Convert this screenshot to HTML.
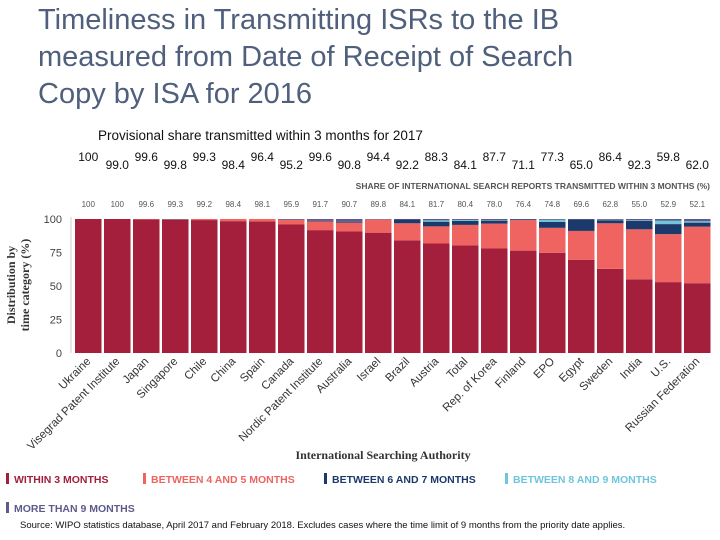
<!DOCTYPE html>
<html><head><meta charset="utf-8"><style>
body{margin:0;background:#fff;width:720px;height:540px;overflow:hidden;font-family:"Liberation Sans",sans-serif}
.title{position:absolute;left:38px;top:2px;font-size:29px;line-height:37px;color:#4f5f7c;width:605px}
</style></head><body>
<div class="title">Timeliness in Transmitting ISRs to the IB measured from Date of Receipt of Search Copy by ISA for 2016</div>
<svg id="c" width="720" height="540" style="position:absolute;left:0;top:0"></svg>
<script>
const cats=["Ukraine","Visegrad Patent Institute","Japan","Singapore","Chile","China","Spain","Canada","Nordic Patent Institute","Australia","Israel","Brazil","Austria","Total","Rep. of Korea","Finland","EPO","Egypt","Sweden","India","U.S.","Russian Federation"];
const within3=[100,100,99.6,99.3,99.2,98.4,98.1,95.9,91.7,90.7,89.8,84.1,81.7,80.4,78.0,76.4,74.8,69.6,62.8,55.0,52.9,52.1];
const m45=[0,0,0.4,0.4,0.8,1.6,1.9,3.5,6.5,6.6,9.8,12.7,12.8,15.2,18.6,22.8,18.6,21.5,34.0,37.3,35.8,42.2];
const m67=[0,0,0,0.3,0,0,0,0.3,0.5,0.7,0.2,2.8,3.5,2.9,2.2,0.5,4.5,8.5,2.3,6.2,7.5,3.0];
const m89=[0,0,0,0,0,0,0,0,0,0,0,0,1.0,0.8,0.4,0,1.5,0,0.3,0.5,2.5,1.0];
const m9p=[0,0,0,0,0,0,0,0.3,1.3,2.0,0.2,0.4,1.0,0.7,0.8,0.3,0.6,0.4,0.6,1.0,1.3,1.7];
const prov=["100","99.0","99.6","99.8","99.3","98.4","96.4","95.2","99.6","90.8","94.4","92.2","88.3","84.1","87.7","71.1","77.3","65.0","86.4","92.3","59.8","62.0"];
const shareLabels=["100","100","99.6","99.3","99.2","98.4","98.1","95.9","91.7","90.7","89.8","84.1","81.7","80.4","78.0","76.4","74.8","69.6","62.8","55.0","52.9","52.1"];
const yTicks=[0,25,50,75,100];
const series=[within3,m45,m67,m89,m9p];
const colors=["#a31f3c","#ef6461","#1b3a6b","#6ec6dc","#5e5b8c"];
const sNames=["within-3-months","between-4-5-months","between-6-7-months","between-8-9-months","more-than-9-months"];
const svg=document.getElementById('c');const NS="http://www.w3.org/2000/svg";
const X0=75,X1=713,Y0=353,Y1=219;
const step=(X1-X0)/cats.length,bw=step-2.5;
const x=i=>X0+i*step;const y=v=>Y0-(v/100)*(Y0-Y1);
function el(t,a,txt){const e=document.createElementNS(NS,t);for(const k in a)e.setAttribute(k,a[k]);if(txt!=null)e.textContent=txt;svg.appendChild(e);return e;}
let t=el('text',{x:98,y:140,'font-size':13.5,fill:'#111'},"Provisional share transmitted within 3 months for 2017");


let ax=el('line',{x1:X0-4,x2:X0-4,y1:Y1-2,y2:Y0,stroke:'#ddd','stroke-width':1.5});


yTicks.forEach(v=>{const e=el('text',{x:X0-13,y:y(v)+4,'font-size':11,'text-anchor':'end',fill:'#444'},v);

});
cats.forEach((c,i)=>{
 let acc=0;
 series.forEach((s,k)=>{const v=s[i];if(v<=0)return;
  const r=el('rect',{x:x(i),y:y(acc+v),width:bw,height:y(acc)-y(acc+v),fill:colors[k]});
  
  
  acc+=v;});
 const cx=x(i)+bw/2;
 const lb=el('text',{x:cx+3,y:362,'font-size':11.5,'text-anchor':'end',fill:'#333',transform:`rotate(-45 ${cx+3} 362)`},c);
 
 
 const p=el('text',{x:cx,y:(i%2?169:161),'font-size':12,'text-anchor':'middle',fill:'#111','font-family':'Liberation Sans Narrow, Liberation Sans, sans-serif'},prov[i]);
 
 
 const s=el('text',{x:cx,y:207,'font-size':8,'text-anchor':'middle',fill:'#555'},shareLabels[i]);
 
 
});
t=el('text',{x:710,y:189,'font-size':8.5,'text-anchor':'end',fill:'#555','font-weight':'bold'},"SHARE OF INTERNATIONAL SEARCH REPORTS TRANSMITTED WITHIN 3 MONTHS (%)");


t=el('text',{x:383,y:459,'font-size':12,'text-anchor':'middle',fill:'#333','font-family':'Liberation Serif, serif','font-weight':'bold'},"International Searching Authority");


t=el('text',{transform:'rotate(-90)','font-size':12,'text-anchor':'middle',fill:'#333','font-family':'Liberation Serif, serif','font-weight':'bold'});


[["Distribution by",15],["time category (%)",29]].forEach(([s,xx])=>{const ts=document.createElementNS(NS,'tspan');ts.setAttribute('x',-285);ts.setAttribute('y',xx);ts.textContent=s;t.appendChild(ts);});
const legend=[["WITHIN 3 MONTHS",6,483],["BETWEEN 4 AND 5 MONTHS",143,483],["BETWEEN 6 AND 7 MONTHS",324,483],["BETWEEN 8 AND 9 MONTHS",505,483],["MORE THAN 9 MONTHS",6,512]];
legend.forEach(([s,lx,ly],k)=>{
 const r=el('rect',{x:lx,y:ly-10,width:3,height:11,fill:colors[k]});
 
 
 const e=el('text',{x:lx+8,y:ly,'font-size':10.5,'font-weight':'bold',fill:colors[k]},s);
 
 
});
t=el('text',{x:20,y:528,'font-size':9.5,fill:'#111'},"Source: WIPO statistics database, April 2017 and February 2018. Excludes cases where the time limit of 9 months from the priority date applies.");


</script>
</body></html>
